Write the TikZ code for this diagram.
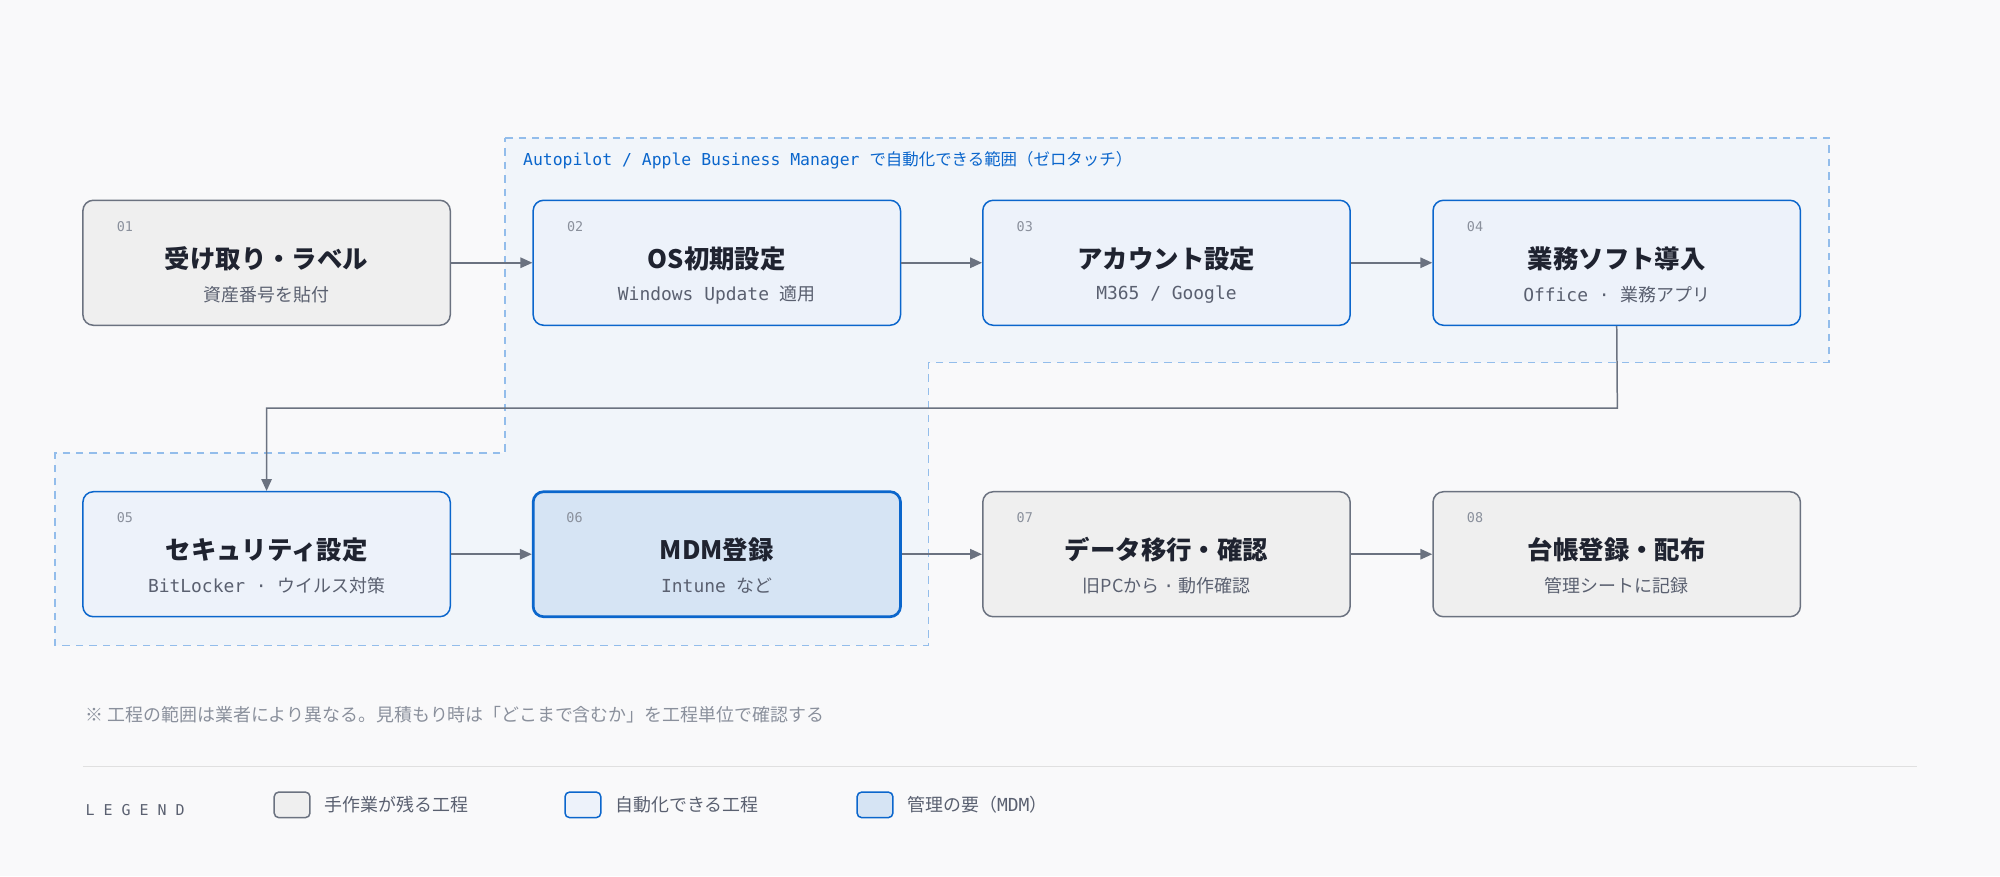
\documentclass[tikz,border=0pt]{standalone}
\usepackage{fontspec}
\setmainfont{Noto Sans CJK JP}
\newfontfamily\mono{DejaVu Sans Mono}
\usetikzlibrary{arrows.meta,positioning}
\definecolor{bgc}{HTML}{F9F9FA}
\definecolor{grayfill}{HTML}{EFEFEF}
\definecolor{grayline}{HTML}{6B7280}
\definecolor{bluefill}{HTML}{EDF2FA}
\definecolor{blueline}{HTML}{0B66CC}
\definecolor{mdmfill}{HTML}{D6E4F4}
\definecolor{zonefill}{HTML}{F1F5FA}
\definecolor{zoneline}{HTML}{93BDEB}
\definecolor{txt}{HTML}{1F2330}
\definecolor{subtxt}{HTML}{5A6070}
\definecolor{numtxt}{HTML}{8A909C}
\tikzset{
  stepbase/.style={rounded corners=7pt, minimum width=8.64cm, minimum height=2.94cm, line width=1pt},
  manualbox/.style={stepbase, fill=grayfill, draw=grayline},
  autobox/.style={stepbase, fill=bluefill, draw=blueline},
  mdmbox/.style={stepbase, fill=mdmfill, draw=blueline, line width=1.8pt},
  num/.style={font=\mono\fontsize{9}{10}\selectfont, text=numtxt, anchor=west},
  title/.style={font=\bfseries\fontsize{17}{19}\selectfont, text=txt},
  sub/.style={font=\fontsize{12}{14}\selectfont, text=subtxt},
  flow/.style={draw=grayline, line width=1pt, -{Triangle[length=8pt,width=7pt]}},
  swatch/.style={rounded corners=3pt, minimum width=0.84cm, minimum height=0.6cm, line width=1pt},
  legtxt/.style={font=\fontsize{12}{14}\selectfont, text=subtxt, anchor=west}
}
\newcommand{\stepbox}[6]{%
  \node[#2] (#1) at (#3) {};
  \node[num] (#1num) at ([xshift=0.69cm,yshift=-0.63cm]#1.north west) {#4};
  \node[title] (#1title) at ([yshift=0.1cm]#1.center) {#5};
  \node[sub] (#1sub) at ([yshift=-0.75cm]#1.center) {#6};
}
\begin{document}
\begin{tikzpicture}[x=0.03cm,y=-0.03cm]
  \fill[bgc] (0,0) rectangle (1568,687);
  \useasboundingbox (0,0) rectangle (1568,687);

  % automation zone
  \draw[fill=zonefill, draw=zoneline, line width=1pt, dash pattern=on 5pt off 4pt]
    (396,108) -- (1434,108) -- (1434,284) -- (728,284) -- (728,506)
    -- (43,506) -- (43,355) -- (396,355) -- cycle;
  \node[anchor=west, text=blueline, font=\fontsize{11}{13}\selectfont] (zone) at (406,126)
    {{\mono Autopilot / Apple Business Manager }で自動化できる範囲（ゼロタッチ）};

  % steps
  \stepbox{s1}{manualbox}{209,206}{01}{受け取り・ラベル}{資産番号を貼付}
  \stepbox{s2}{autobox}{562,206}{02}{OS初期設定}{{\mono Windows Update }適用}
  \stepbox{s3}{autobox}{914.5,206}{03}{アカウント設定}{{\mono M365 / Google}}
  \stepbox{s4}{autobox}{1267.5,206}{04}{業務ソフト導入}{{\mono Office · }業務アプリ}
  \stepbox{s5}{autobox}{209,434.5}{05}{セキュリティ設定}{{\mono BitLocker · }ウイルス対策}
  \stepbox{s6}{mdmbox}{562,434.5}{06}{MDM登録}{{\mono Intune }など}
  \stepbox{s7}{manualbox}{914.5,434.5}{07}{データ移行・確認}{旧PCから {\mono·} 動作確認}
  \stepbox{s8}{manualbox}{1267.5,434.5}{08}{台帳登録・配布}{管理シートに記録}

  % connectors
  \draw[flow] (s1) -- (s2);
  \draw[flow] (s2) -- (s3);
  \draw[flow] (s3) -- (s4);
  \coordinate (turn) at (1268,320);
  \draw[flow] (s4.south) -- (turn) -| (s5.north);
  \draw[flow] (s5) -- (s6);
  \draw[flow] (s6) -- (s7);
  \draw[flow] (s7) -- (s8);

  % note and legend
  \node[anchor=west, text=numtxt, font=\fontsize{12}{14}\selectfont] (note) at (63,560)
    {※ 工程の範囲は業者により異なる。見積もり時は「どこまで含むか」を工程単位で確認する};
  \draw[draw=black!12, line width=1pt] (65,601) -- (1503,601);
  \node[anchor=west, text=subtxt, font=\mono\fontsize{10}{12}\selectfont] (legend) at (63,635) {L E G E N D};
  \node[swatch, fill=grayfill, draw=grayline] (k1) at (229,631) {};
  \node[legtxt, right=0.2cm of k1] (k1txt) {手作業が残る工程};
  \node[swatch, fill=bluefill, draw=blueline] (k2) at (457,631) {};
  \node[legtxt, right=0.2cm of k2] (k2txt) {自動化できる工程};
  \node[swatch, fill=mdmfill, draw=blueline] (k3) at (686,631) {};
  \node[legtxt, right=0.2cm of k3] (k3txt) {管理の要（{\mono MDM}）};
\end{tikzpicture}
\end{document}
